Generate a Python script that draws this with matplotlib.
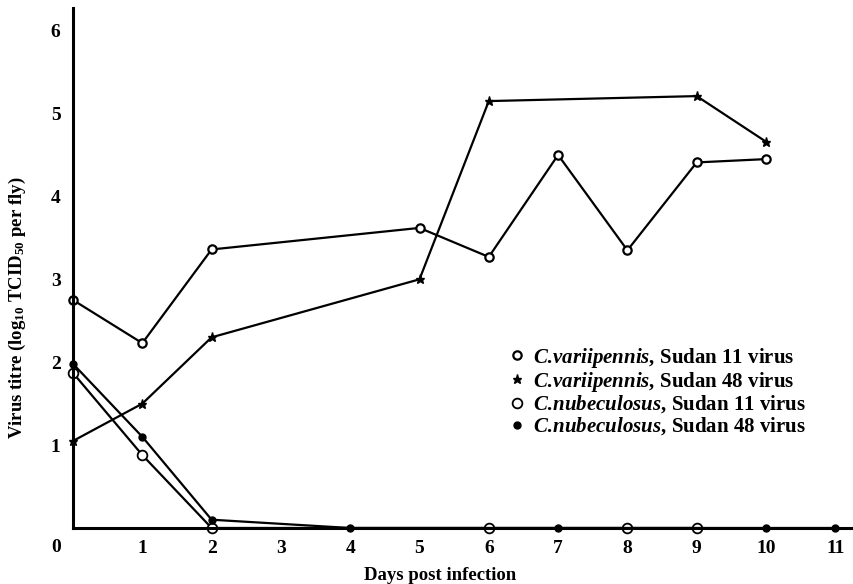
import matplotlib
matplotlib.use("Agg")
import matplotlib.pyplot as plt

plt.rcParams['font.family'] = 'Liberation Serif'
plt.rcParams['font.weight'] = 'bold'
plt.rcParams['mathtext.fontset'] = 'custom'
plt.rcParams['mathtext.rm'] = 'Liberation Serif:bold'
plt.rcParams['mathtext.it'] = 'Liberation Serif:italic:bold'
plt.rcParams['mathtext.bf'] = 'Liberation Serif:bold'

# data (days post infection, log10 TCID50 per fly)
days_var11 = [0, 1, 2, 5, 6, 7, 8, 9, 10]
titre_var11 = [2.75, 2.23, 3.36, 3.62, 3.27, 4.5, 3.35, 4.41, 4.45]

days_var48 = [0, 1, 2, 5, 6, 9, 10]
titre_var48 = [1.05, 1.5, 2.3, 3.0, 5.15, 5.21, 4.66]

days_nub11 = [0, 1, 2, 6, 8, 9]
titre_nub11 = [1.87, 0.88, 0, 0, 0, 0]

days_nub48 = [0, 1, 2, 4, 7, 10, 11]
titre_nub48 = [1.98, 1.1, 0.1, 0, 0, 0, 0]

labels = [r'$\mathit{C.\!variipennis}$, Sudan 11 virus',
          r'$\mathit{C.\!variipennis}$, Sudan 48 virus',
          r'$\mathit{C.\!nubeculosus}$, Sudan 11 virus',
          r'$\mathit{C.\!nubeculosus}$, Sudan 48 virus']

fig = plt.figure(figsize=(8.54, 5.84), dpi=100)
ax = fig.add_axes([0.0855, 0.0959, 0.9145, 0.890])

kw = dict(color='black', lw=1.6, clip_on=False)
l1, = ax.plot(days_var11, titre_var11, marker='o', ms=6, mfc='white', mec='black', mew=1.6, **kw)
l2, = ax.plot(days_var48, titre_var48, marker='*', ms=6.5, mfc='black', mec='black', **kw)
l3, = ax.plot(days_nub11, titre_nub11, marker='o', ms=7, mfc='white', mec='black', mew=1.3, **kw)
l4, = ax.plot(days_nub48, titre_nub48, marker='o', ms=5, mfc='black', mec='black', **kw)

ax.set_xlim(0, 11.27)
ax.set_ylim(0, 6.27)
ax.spines['top'].set_visible(False)
ax.spines['right'].set_visible(False)
ax.spines['left'].set_linewidth(2.2)
ax.spines['bottom'].set_linewidth(2.2)

ax.set_xticks(range(1, 12))
ax.set_yticks(range(1, 7))
ax.tick_params(length=0, labelsize=14, pad=9)
ax.annotate('0', xy=(0, 0), xytext=(-12, -14), textcoords='offset points',
            ha='center', va='center', fontsize=14, fontweight='bold', annotation_clip=False)

ax.set_xlabel('Days post infection', fontsize=13.5, fontweight='bold')
ax.xaxis.set_label_coords(0.47, -0.075)
ax.set_ylabel(r'Virus titre (log$_{10}$ TCID$_{50}$ per fly)', fontsize=13.5,
              fontweight='bold', va='center', ha='center')
ax.yaxis.set_label_coords(-0.0717, 0.423)

leg = ax.legend([l1, l2, l3, l4], labels, loc='upper left', bbox_to_anchor=(0.549, 0.371),
                frameon=False, handlelength=0.5, handletextpad=0.5, fontsize=15,
                labelspacing=0.0, borderpad=0)
for h in leg.legend_handles:
    h.set_linestyle('none')

fig.savefig('out.png', dpi=100)
